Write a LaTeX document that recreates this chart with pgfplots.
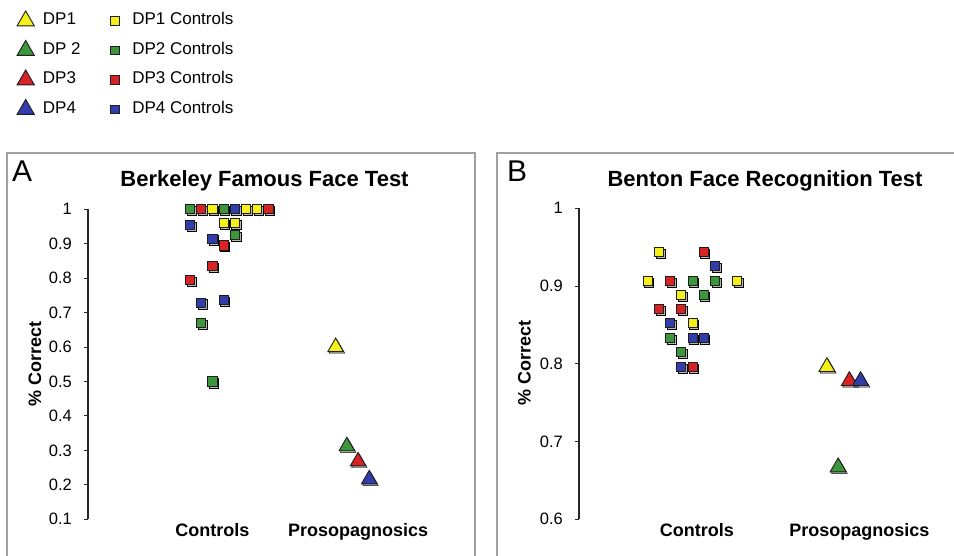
\documentclass[border=0pt]{standalone}
\usepackage{fontspec}
\setmainfont{Liberation Sans}
\usepackage{pgfplots}
\usepackage{pgfplotstable}
\pgfplotsset{compat=1.18}

\definecolor{yel}{RGB}{245,240,25}
\definecolor{grn}{RGB}{60,150,60}
\definecolor{rd}{RGB}{215,35,35}
\definecolor{blu}{RGB}{50,60,170}
\definecolor{outl}{RGB}{30,30,30}
\definecolor{boxc}{RGB}{160,160,160}

% Panel A: Berkeley Famous Face Test (x = column slot, y = proportion correct)
\pgfplotstableread{
x y
2 1
5 1
6 1
3 0.960
4 0.960
}\AY
\pgfplotstableread{
x y
0 1
3 1
4 0.925
1 0.669
2 0.500
}\AG
\pgfplotstableread{
x y
1 1
7 1
3 0.895
2 0.836
0 0.795
}\AR
\pgfplotstableread{
x y
4 1
0 0.954
2 0.915
1 0.729
3 0.737
}\AB
\pgfplotstableread{
x y
13 0.600
}\ADPa
\pgfplotstableread{
x y
14 0.312
}\ADPb
\pgfplotstableread{
x y
15 0.268
}\ADPc
\pgfplotstableread{
x y
16 0.216
}\ADPd

% Panel B: Benton Face Recognition Test
\pgfplotstableread{
x y
1 0.944
0 0.907
8 0.907
3 0.889
4 0.852
}\BY
\pgfplotstableread{
x y
4 0.907
6 0.907
5 0.889
2 0.833
3 0.815
}\BG
\pgfplotstableread{
x y
5 0.944
2 0.907
1 0.870
3 0.870
4 0.796
}\BR
\pgfplotstableread{
x y
6 0.926
2 0.852
4 0.833
5 0.833
3 0.796
}\BB
\pgfplotstableread{
x y
16 0.796
}\BDPa
\pgfplotstableread{
x y
17 0.667
}\BDPb
\pgfplotstableread{
x y
18 0.778
}\BDPc
\pgfplotstableread{
x y
19 0.778
}\BDPd

\newcommand{\pts}[4]{%
  \addplot[only marks, forget plot, mark=#2, mark size=#3,
    mark options={draw=none, fill=black, fill opacity=0.28, xshift=1.3pt, yshift=-1.6pt}] table {#1};
  \addplot[only marks, forget plot, mark=#2, mark size=#3,
    mark options={draw=outl, line width=0.9pt, fill=#4}] table {#1};
}

\pgfplotsset{
  panel/.style={
    scale only axis, clip=false,
    axis y line*=left, axis x line*=bottom,
    x axis line style={draw=none}, xtick style={draw=none},
    y axis line style={line width=1.2pt, black!85},
    ytick style={line width=1pt, black!85},
    tick align=outside, major tick length=4pt,
    yticklabel style={font=\fontsize{16.5}{18}\selectfont, inner sep=0pt, anchor=east, xshift=-12pt},
    xticklabel style={font=\fontsize{18}{20}\selectfont\bfseries, inner sep=0pt, anchor=base, yshift=-13pt},
  },
}

\begin{document}
\begin{tikzpicture}
\useasboundingbox (0pt,0pt) rectangle (954pt,-556pt);
\clip (0pt,0pt) rectangle (954pt,-556pt);

% panel frames
\draw[boxc, line width=1.3pt] (7pt,-153pt) rectangle (475pt,-620pt);
\draw[boxc, line width=1.3pt] (497pt,-153pt) rectangle (1000pt,-620pt);

% ---------- Panel A ----------
\begin{axis}[panel,
  at={(88pt,-519.3pt)}, anchor=south west,
  width=372pt, height=310pt,
  xmin=-9.107, xmax=24.1, ymin=0.1, ymax=1,
  ytick={0.1,0.2,0.3,0.4,0.5,0.6,0.7,0.8,0.9,1},
  yticklabels={0.1,0.2,0.3,0.4,0.5,0.6,0.7,0.8,0.9,1},
  xtick={2,15}, xticklabels={Controls,Prosopagnosics},
  legend columns=2,
  legend image code/.code={%
    \path (0pt,-6pt) (20pt,6pt);
    \draw[#1, overlay] plot coordinates {(10pt,0pt)};},
  legend style={draw=none, fill=none, inner sep=0pt, outer sep=0pt,
    column sep=7pt, row sep=13.5pt,
    nodes={inner sep=0pt, text height=12pt, text depth=4pt,
      font=\fontsize{17}{19}\selectfont},
    cells={anchor=west},
    at={(-0.1949,1.6335)}, anchor=north west},
]
\addlegendimage{only marks, mark=triangle*, mark size=10pt, mark options={draw=outl, line width=0.9pt, fill=yel}}
\addlegendentry{\makebox[55pt][l]{DP1}}
\addlegendimage{only marks, mark=square*, mark size=4.2pt, mark options={draw=outl, line width=0.8pt, fill=yel}}
\addlegendentry{DP1 Controls}
\addlegendimage{only marks, mark=triangle*, mark size=10pt, mark options={draw=outl, line width=0.9pt, fill=grn}}
\addlegendentry{\makebox[55pt][l]{DP 2}}
\addlegendimage{only marks, mark=square*, mark size=4.2pt, mark options={draw=outl, line width=0.8pt, fill=grn}}
\addlegendentry{DP2 Controls}
\addlegendimage{only marks, mark=triangle*, mark size=10pt, mark options={draw=outl, line width=0.9pt, fill=rd}}
\addlegendentry{\makebox[55pt][l]{DP3}}
\addlegendimage{only marks, mark=square*, mark size=4.2pt, mark options={draw=outl, line width=0.8pt, fill=rd}}
\addlegendentry{DP3 Controls}
\addlegendimage{only marks, mark=triangle*, mark size=10pt, mark options={draw=outl, line width=0.9pt, fill=blu}}
\addlegendentry{\makebox[55pt][l]{DP4}}
\addlegendimage{only marks, mark=square*, mark size=4.2pt, mark options={draw=outl, line width=0.8pt, fill=blu}}
\addlegendentry{DP4 Controls}

\pts{\AG}{square*}{4.6pt}{grn}
\pts{\AR}{square*}{4.6pt}{rd}
\pts{\AY}{square*}{4.6pt}{yel}
\pts{\AB}{square*}{4.6pt}{blu}
\pts{\ADPa}{triangle*}{9pt}{yel}
\pts{\ADPb}{triangle*}{9pt}{grn}
\pts{\ADPc}{triangle*}{9pt}{rd}
\pts{\ADPd}{triangle*}{9pt}{blu}
\end{axis}

% ---------- Panel B ----------
\begin{axis}[panel,
  at={(579pt,-519.3pt)}, anchor=south west,
  width=361pt, height=311pt,
  xmin=-6.134, xmax=26.098, ymin=0.6, ymax=1,
  ytick={0.6,0.7,0.8,0.9,1},
  yticklabels={0.6,0.7,0.8,0.9,1},
  xtick={4.4,18.9}, xticklabels={Controls,Prosopagnosics},
]
\pts{\BY}{square*}{4.5pt}{yel}
\pts{\BG}{square*}{4.5pt}{grn}
\pts{\BR}{square*}{4.5pt}{rd}
\pts{\BB}{square*}{4.5pt}{blu}
\pts{\BDPa}{triangle*}{9.2pt}{yel}
\pts{\BDPb}{triangle*}{9.2pt}{grn}
\pts{\BDPc}{triangle*}{9.2pt}{rd}
\pts{\BDPd}{triangle*}{9.2pt}{blu}
\end{axis}

% titles, panel letters, axis labels
\node[anchor=base, font=\fontsize{22}{24}\selectfont\bfseries] at (264.5pt,-187pt) {Berkeley Famous Face Test};
\node[anchor=base, font=\fontsize{22}{24}\selectfont\bfseries] at (765pt,-187pt) {Benton Face Recognition Test};
\node[anchor=base west, inner sep=0pt, font=\fontsize{30}{32}\selectfont] at (12pt,-182pt) {A};
\node[anchor=base west, inner sep=0pt, font=\fontsize{30}{32}\selectfont] at (507pt,-182pt) {B};
\node[rotate=90, inner sep=0pt, font=\fontsize{18}{20}\selectfont\bfseries] at (35pt,-364pt) {\% Correct};
\node[rotate=90, inner sep=0pt, font=\fontsize{18}{20}\selectfont\bfseries] at (524.5pt,-363pt) {\% Correct};
\end{tikzpicture}
\end{document}
